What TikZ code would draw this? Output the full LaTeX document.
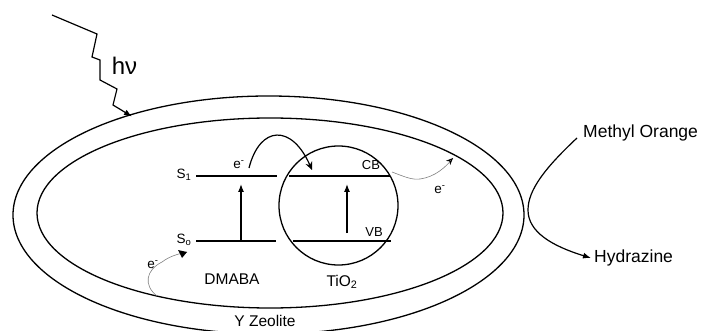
\documentclass[tikz,border=0pt]{standalone}
\usepackage{fontspec}
\setmainfont{Liberation Sans}
\usetikzlibrary{arrows.meta,calc}
\begin{document}
\begin{tikzpicture}[x=1pt,y=-1pt,
  wall/.style={line width=1.3pt},
  level/.style={line width=1.5pt},
  lab/.style={font=\fontsize{15.5}{17}\selectfont, inner sep=0pt},
  big/.style={font=\fontsize{17.5}{19}\selectfont, inner sep=0pt},
  small/.style={font=\fontsize{13}{15}\selectfont, inner sep=0pt},
  el/.style={font=\fontsize{13.5}{15}\selectfont, inner sep=0pt},
  blk/.style={line width=1.2pt,-{Latex[length=8pt,width=6pt]}},
  gry/.style={draw=gray, line width=0.6pt}]
\useasboundingbox (0,0) rectangle (701,331);
% zeolite walls
\draw[wall] (268.5,215) ellipse [x radius=255.5, y radius=119];
\draw[wall] (270,213) ellipse [x radius=233, y radius=95];
% TiO2 particle
\node[draw, circle, line width=1.3pt, minimum size=119pt, inner sep=0pt] (tio) at (338.5,205.5) {};
% levels
\coordinate (s1a) at (196,176); \coordinate (s1b) at (277,176);
\coordinate (cba) at (289,176); \coordinate (cbb) at (390,176);
\coordinate (s0a) at (196,241); \coordinate (s0b) at (276,241);
\coordinate (vba) at (293,241); \coordinate (vbb) at (391,241);
\draw[level] (s1a) -- (s1b);
\draw[level] (cba) -- (cbb);
\draw[level] (s0a) -- (s0b);
\draw[level] (vba) -- (vbb);
% excitation arrows
\coordinate (ex1a) at (241,240); \coordinate (ex1b) at (241,184);
\coordinate (ex2a) at (347,233); \coordinate (ex2b) at (347,184);
\draw[blk] (ex1a) -- (ex1b);
\draw[blk] (ex2a) -- (ex2b);
% labels
\node[font=\fontsize{13.5}{15}\selectfont, inner sep=0pt] (S1) at (184,175) {S\textsubscript{1}};
\node[font=\fontsize{13.5}{15}\selectfont, inner sep=0pt] (S0) at (184,240) {S\textsubscript{o}};
\node[small] (CB) at (371,165) {CB};
\node[small] (VB) at (374,232) {VB};
\node[el] (e1) at (239,165) {e\textsuperscript{-}};
\node[el] (e2) at (440,190) {e\textsuperscript{-}};
\node[el] (e3) at (153,265) {e\textsuperscript{-}};
\node[lab] (dmaba) at (232,279) {DMABA};
\node[lab] (tio2) at (342,282) {TiO\textsubscript{2}};
\node[lab] (yz) at (265,321) {Y Zeolite};
\node[big, anchor=west] (mo) at (583,133) {Methyl Orange};
\node[big, anchor=west] (hy) at (594,258) {Hydrazine};
\node[font=\fontsize{24}{26}\selectfont, inner sep=0pt] (hv) at (124.5,66) {hν};
% electron transfer S1 -> CB
\coordinate (t1a) at (249,168); \coordinate (t1b) at (312,170);
\draw[line width=1.2pt,-{Stealth[length=8pt,width=7pt]}] (t1a) .. controls (260,125) and (292,124) .. (t1b);
% electron out of CB
\coordinate (t2a) at (392,172); \coordinate (t2m) at (420,179); \coordinate (t2b) at (453,158);
\draw[gry] (t2a) .. controls (405,177) and (412,180) .. (t2m) .. controls (435,177) and (446,167) .. (t2b);
\draw[line width=0.9pt,-{Stealth[length=7pt,width=6pt,open]}] ($(t2b)+(-3,3)$) -- (t2b);
% electron into S0
\coordinate (t3a) at (157,296); \coordinate (t3m) at (162,262); \coordinate (t3b) at (187,252);
\draw[gry] (t3a) .. controls (143,285) and (146,270) .. (t3m) .. controls (170,256) and (178,254) .. (t3b);
\fill (t3b) -- ++(-9,-2) -- ++(4,8) -- cycle;
% photon
\coordinate (p0) at (52,15);
\coordinate (p7) at (132,116.5);
\draw[line width=1.2pt,-{Latex[length=8pt,width=6pt]}] (p0) -- (97,34) -- (92,57) -- (100,60) -- (100,80) -- (117,89) -- (113,105) -- (p7);
% methyl orange -> hydrazine
\coordinate (m0) at (577,138); \coordinate (m1) at (528,210); \coordinate (m2) at (591,258);
\draw[line width=1.2pt,-{Latex[length=8pt,width=6pt]}] (m0) .. controls (545,168) and (528,190) .. (m1) .. controls (528,232) and (552,246) .. (m2);
\end{tikzpicture}
\end{document}
